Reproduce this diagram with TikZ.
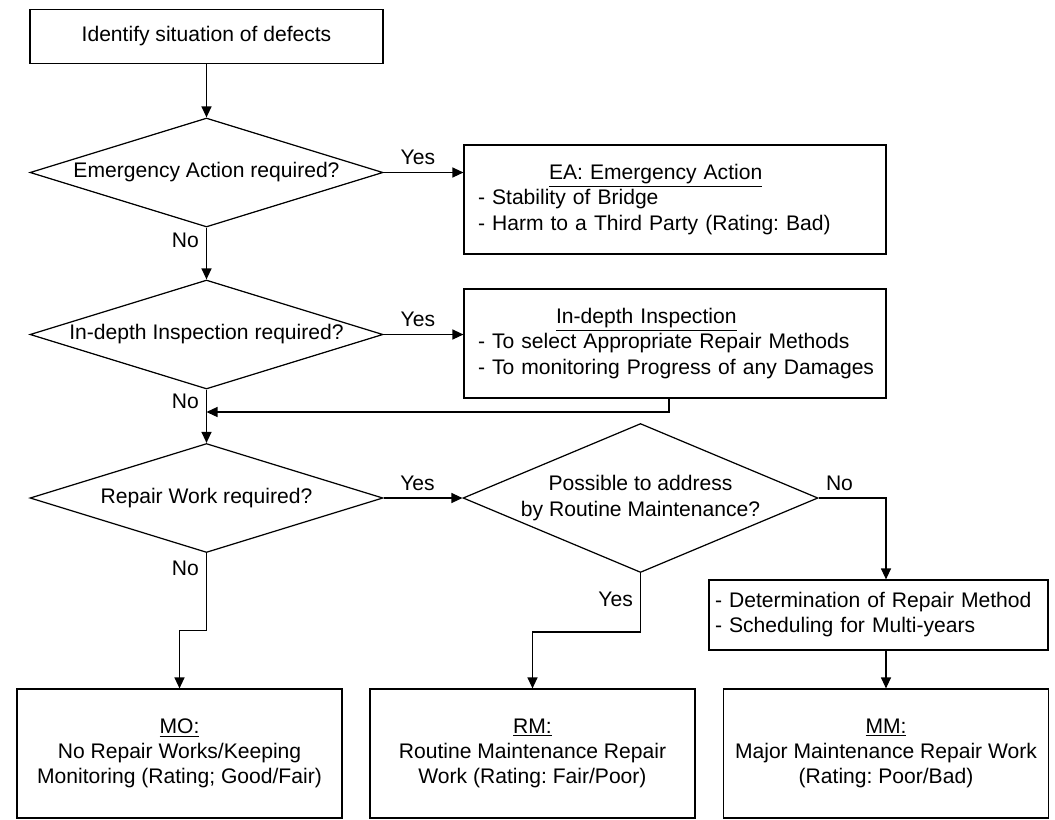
\documentclass[tikz,border=0pt]{standalone}
\usepackage{fontspec}
\setmainfont{Liberation Sans}
\usepackage{tikz}
\usetikzlibrary{arrows.meta, shapes.geometric}
\tikzset{
    stepbox/.style={draw, rectangle, minimum width=7.06cm, minimum height=1.08cm},
    askdiam/.style={draw, diamond, align=center, inner sep=0pt, shape aspect=3.2, minimum width=7.06cm, minimum height=2.18cm},
    notebox/.style={draw, rectangle, align=left, inner xsep=0.28cm, text width=7.88cm, minimum height=2.18cm},
    planbox/.style={draw, rectangle, align=left, inner xsep=0.12cm, text width=6.54cm, minimum height=1.4cm},
    resultbox/.style={draw, rectangle, align=center, minimum width=6.5cm, minimum height=2.58cm},
    lbl/.style={inner sep=4pt},
}
\newcommand{\notelines}[2]{\begin{tabular}{@{}l@{}}#1\\#2\end{tabular}}

\begin{document}
\begin{tikzpicture}[
    x=0.02cm, y=-0.02cm,
    >={Triangle[length=2.2mm, width=2mm]}, line width=0.7pt,
    every node/.style={font=\fontsize{12}{14.4}\selectfont\frenchspacing},
]
\useasboundingbox (0,0) rectangle (1055,819);
\node[stepbox] (start) at (206.5,36.3) {Identify situation of defects};
\node[askdiam] (askea) at (206.5,172.5) {Emergency Action required?};
\node[notebox] (ea) at (675,199.5) {\notelines{\hspace*{1.42cm}\underline{EA: Emergency Action}}{- Stability of Bridge\\- Harm to a Third Party (Rating: Bad)}};
\node[askdiam] (askinsp) at (206.5,334.5) {In-depth Inspection required?};
\node[notebox] (insp) at (675,343.5) {\notelines{\hspace*{1.56cm}\underline{In-depth Inspection}}{- To select Appropriate Repair Methods\\- To monitoring Progress of any Damages}};
\node[askdiam] (askrep) at (206.5,498) {Repair Work required?};
\node[askdiam, shape aspect=2.4, minimum width=7.1cm, minimum height=2.98cm] (askrm) at (640.5,498) {Possible to address\\by Routine Maintenance?};
\node[planbox] (prep) at (878.5,615) {\notelines{- Determination of Repair Method}{- Scheduling for Multi-years}};
\node[resultbox] (mo) at (179.5,753.5) {\underline{MO:}\\No Repair Works/Keeping\\Monitoring (Rating; Good/Fair)};
\node[resultbox] (rm) at (532.5,753.5) {\underline{RM:}\\Routine Maintenance Repair\\Work (Rating: Fair/Poor)};
\node[resultbox] (mm) at (886,753.5) {\underline{MM:}\\Major Maintenance Repair Work\\(Rating: Poor/Bad)};
\coordinate (join) at (206.5,412);

\draw[->] (start) -- (askea);
\draw[->] (askea.east) -- node[lbl, above, pos=.43] {Yes} (askea.east -| ea.west);
\draw[->] (askea.south) -- node[lbl, left, pos=.25] {No} (askinsp.north);
\draw[->] (askinsp.east) -- node[lbl, above, pos=.43] {Yes} (askinsp.east -| insp.west);
\draw[->] ([xshift=-3.4pt]insp.south) |- (join);
\draw[->] (askinsp.south) -- node[lbl, left, pos=.22] {No} (askrep.north);
\draw[->] (askrep.east) -- node[lbl, above, pos=.43] {Yes} (askrm.west);
\draw[->] (askrep.south) -- node[lbl, left, pos=.2] {No} ++(0,77) -| (mo.north);
\draw[->] (askrm.south) -- node[lbl, left, pos=.45] {Yes} ++(0,59) -| (rm.north);
\draw[->] (askrm.east) -| node[lbl, above, pos=.155] {No} (prep.north -| mm.north);
\draw[->] (prep.south -| mm.north) -- (mm.north);
\end{tikzpicture}
\end{document}
